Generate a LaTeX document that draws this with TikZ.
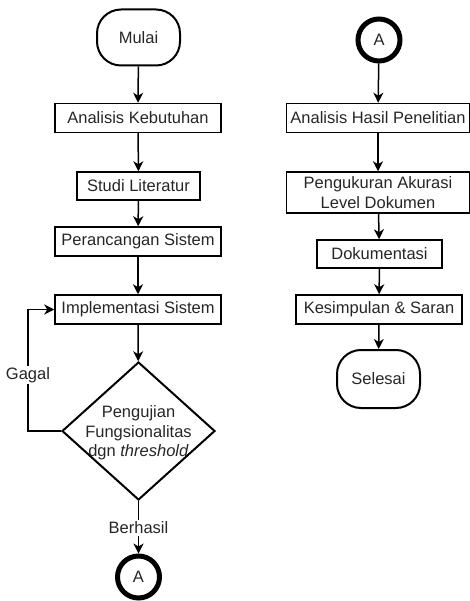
\documentclass[tikz,border=0pt]{standalone}
\usepackage{fontspec}
\setmainfont{Liberation Sans}
\usetikzlibrary{shapes.geometric,arrows.meta}
\begin{document}
\begin{tikzpicture}[x=1pt,y=-1pt,
  font=\fontsize{16.5}{19.5}\selectfont,
  every node/.style={inner sep=0pt, text=black!85},
  procbox/.style={draw, line width=1.5pt, minimum height=#1},
  procbox/.default=29pt,
  terminal/.style={draw, line width=2pt, rounded corners=24pt,
    minimum width=83pt, minimum height=56pt},
  connector/.style={draw, circle, line width=5pt, minimum size=42pt},
  decision/.style={draw, diamond, line width=2pt,
    minimum width=153pt, minimum height=138pt},
  flow/.style={draw, line width=1.5pt,
    -{Stealth[length=10pt, width=10pt, inset=3pt]}},
  edgelabel/.style={fill=white, inner sep=1.5pt}
]
\useasboundingbox (0,0) rectangle (470,601);

% left column
\node[terminal] (mulai) at (138.5,37.5) {Mulai};
\node[procbox, minimum width=166pt] (analisis) at (138,118) {Analisis Kebutuhan};
\node[procbox=28pt, minimum width=123pt] (studi) at (138.5,186) {Studi Literatur};
\node[procbox, minimum width=166pt] (rancang) at (138,241.5) {Perancangan Sistem};
\node[procbox, minimum width=166pt] (impl) at (138,309.5) {Implementasi Sistem};
\node[decision] (uji) at (138.5,431) {};
\node[align=center] (ujitext) at (138.5,433) {Pengujian\\Fungsionalitas\\dgn \textit{threshold}};
\node[connector] (conA) at (138.5,577) {A};
\coordinate (loopbot) at (28,431);
\coordinate (looptop) at (28,309.5);

\draw[flow] (mulai) -- (analisis);
\draw[flow] (analisis) -- (studi);
\draw[flow] (studi) -- (rancang);
\draw[flow] (rancang) -- (impl);
\draw[flow] (impl) -- (uji);
\draw[flow] (uji.west) -- (loopbot) -- (looptop) -- (impl.west);
\node[edgelabel] (gagal) at (28,375) {Gagal};
\draw[flow] (uji.south) -- (conA);
\node[edgelabel] (berhasil) at (138.5,528) {Berhasil};

% right column
\node[connector] (conA2) at (379,40) {A};
\node[procbox, minimum width=183pt] (hasil) at (378,118) {Analisis Hasil Penelitian};
\node[procbox=41pt, minimum width=183pt, align=center] (akurasi) at (378,192.5) {Pengukuran Akurasi\\Level Dokumen};
\node[procbox=28pt, minimum width=125pt] (dok) at (379.5,254) {Dokumentasi};
\node[procbox, minimum width=166pt] (simpul) at (379,309.5) {Kesimpulan \& Saran};
\node[terminal, minimum height=58pt] (selesai) at (378.5,379) {Selesai};

\draw[flow] (conA2) -- (hasil);
\draw[flow] (hasil) -- (akurasi);
\draw[flow] (akurasi) -- (dok);
\draw[flow] (dok) -- (simpul);
\draw[flow] (simpul) -- (selesai);
\end{tikzpicture}
\end{document}
